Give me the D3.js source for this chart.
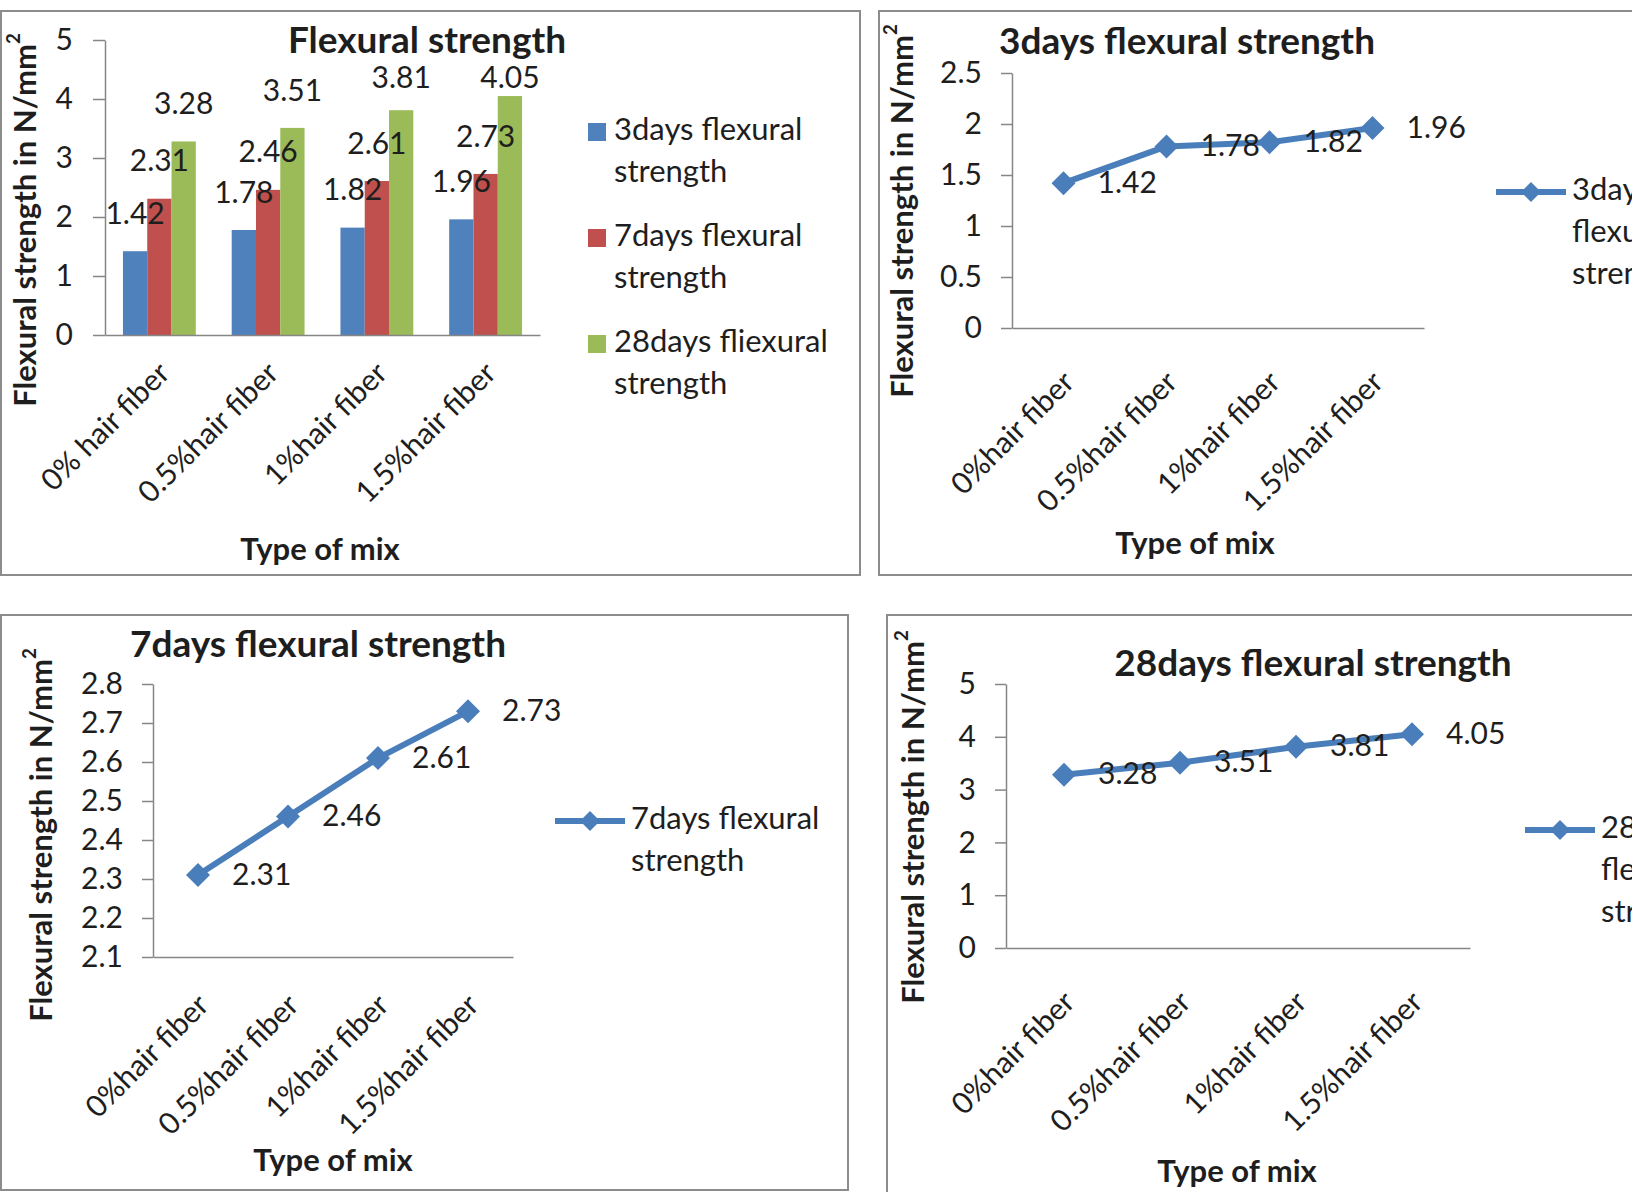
<!DOCTYPE html>
<html>
<head>
<meta charset="utf-8">
<script src="https://cdn.jsdelivr.net/npm/d3@7"></script>
<style>
  html, body { margin: 0; padding: 0; background: #fff; }
  svg { display: block; }
  text { font-family: Lato, "Open Sans", sans-serif; fill: #1e1e1e; }
</style>
</head>
<body>
<svg id="chart" width="1632" height="1192"></svg>
<script>
// ---------------- DATA ----------------
const barCategories = ["0% hair fiber", "0.5%hair fiber", "1%hair fiber", "1.5%hair fiber"];
const lineCategories = ["0%hair fiber", "0.5%hair fiber", "1%hair fiber", "1.5%hair fiber"];
const days3Values = [1.42, 1.78, 1.82, 1.96];
const days7Values = [2.31, 2.46, 2.61, 2.73];
const days28Values = [3.28, 3.51, 3.81, 4.05];
const barSeriesNames = ["3days flexural strength", "7days flexural strength", "28days fliexural strength"];
const barLegendLines = [["3days flexural", "strength"], ["7days flexural", "strength"], ["28days fliexural", "strength"]];
const barTicks = [0, 1, 2, 3, 4, 5];
const days3Ticks = [0, 0.5, 1, 1.5, 2, 2.5];
const days7Ticks = [2.1, 2.2, 2.3, 2.4, 2.5, 2.6, 2.7, 2.8];
const days28Ticks = [0, 1, 2, 3, 4, 5];
const chartTitles = ["Flexural strength", "3days flexural strength", "7days flexural strength", "28days flexural strength"];
const yAxisTitle = "Flexural strength in N/mm";
const xAxisTitle = "Type of mix";

// ---------------- STYLE ----------------
const barColors = ["#4F81BD", "#C0504D", "#9BBB59"];
const lineColor = "#4A7EBB";
const axisColor = "#868686";
const borderColor = "#8c8c8c";
const numFont = 30;
const catFont = 30;
const legendFont = 31;
const titleFont = 37;
const yTitleFont = 31;
const xTitleFont = 31;

const svg = d3.select("#chart");

function panelBorder(x, y, w, h) {
  svg.append("rect").attr("x", x).attr("y", y).attr("width", w).attr("height", h)
    .attr("fill", "#fff").attr("stroke", borderColor).attr("stroke-width", 2);
}

function styleAxis(g) {
  g.select(".domain").attr("stroke", axisColor).attr("stroke-width", 1.5);
  g.selectAll(".tick line").attr("stroke", axisColor).attr("stroke-width", 1.5);
  g.selectAll("text").attr("font-size", numFont).attr("font-family", "Lato, sans-serif").attr("fill", "#1e1e1e");
}

function yTitle(cx, cy) {
  const t = svg.append("text")
    .attr("transform", `translate(${cx},${cy}) rotate(-90)`)
    .attr("text-anchor", "middle").attr("dominant-baseline", "middle")
    .attr("font-size", yTitleFont).attr("font-weight", "bold");
  t.append("tspan").text(yAxisTitle);
  t.append("tspan").attr("font-size", yTitleFont * 0.6).attr("dy", -yTitleFont * 0.42).text("2");
}

function xTitle(cx, cy) {
  svg.append("text").attr("x", cx).attr("y", cy)
    .attr("text-anchor", "middle").attr("dominant-baseline", "middle")
    .attr("font-size", xTitleFont).attr("font-weight", "bold").text(xAxisTitle);
}

function chartTitle(text, x, y, anchor) {
  svg.append("text").attr("x", x).attr("y", y)
    .attr("text-anchor", anchor).attr("dominant-baseline", "middle")
    .attr("font-size", titleFont).attr("font-weight", "bold").text(text);
}

function categoryAxis(scale, yPos, offX, offY) {
  const g = svg.append("g").attr("transform", `translate(0,${yPos})`)
    .call(d3.axisBottom(scale).tickSize(0).tickSizeOuter(0));
  g.select(".domain").attr("stroke", axisColor).attr("stroke-width", 1.5);
  g.selectAll(".tick text")
    .attr("font-size", catFont).attr("font-family", "Lato, sans-serif").attr("fill", "#1e1e1e")
    .attr("text-anchor", "end").attr("dy", null).attr("y", null)
    .attr("dominant-baseline", "alphabetic")
    .attr("transform", `translate(${offX},${offY}) rotate(-45)`);
  return g;
}

function diamond(sel, cx, cy, r) {
  sel.append("path")
    .attr("d", `M${cx},${cy - r}L${cx + r},${cy}L${cx},${cy + r}L${cx - r},${cy}Z`)
    .attr("fill", lineColor);
}

// ---------------- PANEL 1: grouped bars ----------------
(function () {
  panelBorder(1, 11, 859, 564);
  const x0 = d3.scaleBand().domain(barCategories).range([105, 540]).paddingInner(0.33).paddingOuter(0.165);
  const x1 = d3.scaleBand().domain(barSeriesNames).range([0, x0.bandwidth()]);
  const y = d3.scaleLinear().domain([0, 5]).range([335, 40]);
  const series = [days3Values, days7Values, days28Values];
  const labelMinY = 80;

  const yAxis = svg.append("g").attr("transform", "translate(105,0)")
    .call(d3.axisLeft(y).tickValues(barTicks).tickFormat(d3.format("d")).tickSize(12).tickPadding(20).tickSizeOuter(0));
  styleAxis(yAxis);

  series.forEach((vals, si) => {
    svg.append("g").selectAll("rect").data(vals).join("rect")
      .attr("x", (d, i) => x0(barCategories[i]) + x1(barSeriesNames[si]))
      .attr("y", d => y(d))
      .attr("width", x1.bandwidth())
      .attr("height", d => y(0) - y(d))
      .attr("fill", barColors[si]);
  });
  categoryAxis(x0, 335, 12, 40);
  series.forEach((vals, si) => {
    svg.append("g").selectAll("text").data(vals).join("text")
      .attr("x", (d, i) => x0(barCategories[i]) + x1(barSeriesNames[si]) + x1.bandwidth() / 2)
      .attr("y", d => Math.max(y(d) - 35, labelMinY))
      .attr("text-anchor", "middle").attr("dominant-baseline", "middle")
      .attr("font-size", numFont).text(d => d.toFixed(2));
  });

  chartTitle(chartTitles[0], 427, 44, "middle");
  yTitle(28, 220);
  xTitle(320, 552);

  // legend
  barSeriesNames.forEach((name, i) => {
    const ly = 132 + i * 106;
    svg.append("rect").attr("x", 588).attr("y", ly - 9).attr("width", 18).attr("height", 18).attr("fill", barColors[i]);
    barLegendLines[i].forEach((ln, j) => {
      svg.append("text").attr("x", 614).attr("y", ly + j * 42)
        .attr("dominant-baseline", "middle").attr("font-size", legendFont).text(ln);
    });
  });
})();

// ---------------- line panel helper ----------------
function linePanel(cfg) {
  panelBorder(cfg.bx, cfg.by, cfg.bw, cfg.bh);
  const x = d3.scalePoint().domain(lineCategories).range([cfg.x0, cfg.x1]).padding(0.5);
  const y = d3.scaleLinear().domain(cfg.domain).range([cfg.yBottom, cfg.yTop]);

  const yAxis = svg.append("g").attr("transform", `translate(${cfg.x0},0)`)
    .call(d3.axisLeft(y).tickValues(cfg.ticks).tickFormat(d => String(+d.toFixed(1))).tickSize(11).tickPadding(19).tickSizeOuter(0));
  styleAxis(yAxis);
  categoryAxis(x, cfg.yBottom, cfg.labOffX, cfg.labOffY);

  const line = d3.line().x((d, i) => x(lineCategories[i])).y(d => y(d));
  svg.append("path").datum(cfg.values).attr("d", line)
    .attr("fill", "none").attr("stroke", lineColor).attr("stroke-width", 6).attr("stroke-linejoin", "round");
  const gm = svg.append("g");
  cfg.values.forEach((v, i) => diamond(gm, x(lineCategories[i]), y(v), 12));
  svg.append("g").selectAll("text").data(cfg.values).join("text")
    .attr("x", (d, i) => x(lineCategories[i]) + 34)
    .attr("y", d => y(d) + 2)
    .attr("dominant-baseline", "middle").attr("font-size", numFont).text(d => d.toFixed(2));

  chartTitle(cfg.title, cfg.tx, cfg.ty, cfg.tAnchor);
  yTitle(cfg.ytx, cfg.yty);
  xTitle(cfg.xtx, cfg.xty);

  // legend
  svg.append("line").attr("x1", cfg.lgx).attr("x2", cfg.lgx + 70).attr("y1", cfg.lgy).attr("y2", cfg.lgy)
    .attr("stroke", lineColor).attr("stroke-width", 6);
  diamond(svg, cfg.lgx + 35, cfg.lgy, 10);
  cfg.legendLines.forEach((ln, j) => {
    svg.append("text").attr("x", cfg.lgx + 76).attr("y", cfg.lgy + j * 42)
      .attr("dominant-baseline", "middle").attr("font-size", legendFont).text(ln);
  });
}

linePanel({
  bx: 879, by: 11, bw: 780, bh: 564,
  x0: 1012, x1: 1424, yBottom: 328, yTop: 73, domain: [0, 2.5], ticks: days3Ticks,
  values: days3Values, labOffX: 12, labOffY: 56,
  title: chartTitles[1], tx: 999, ty: 45, tAnchor: "start",
  ytx: 905, yty: 211, xtx: 1195, xty: 546,
  lgx: 1496, lgy: 192, legendLines: ["3days", "flexural", "strength"]
});

linePanel({
  bx: 1, by: 615, bw: 847, bh: 575,
  x0: 153, x1: 513, yBottom: 957, yTop: 684, domain: [2.1, 2.8], ticks: days7Ticks,
  values: days7Values, labOffX: 12, labOffY: 50,
  title: chartTitles[2], tx: 130, ty: 648, tAnchor: "start",
  ytx: 44, yty: 835, xtx: 333, xty: 1163,
  lgx: 555, lgy: 821, legendLines: ["7days flexural", "strength"]
});

linePanel({
  bx: 887, by: 615, bw: 780, bh: 600,
  x0: 1006, x1: 1470, yBottom: 948, yTop: 684, domain: [0, 5], ticks: days28Ticks,
  values: days28Values, labOffX: 12, labOffY: 56,
  title: chartTitles[3], tx: 1313, ty: 667, tAnchor: "middle",
  ytx: 916, yty: 817, xtx: 1237, xty: 1174,
  lgx: 1525, lgy: 830, legendLines: ["28days", "flexural", "strength"]
});
</script>
</body>
</html>
